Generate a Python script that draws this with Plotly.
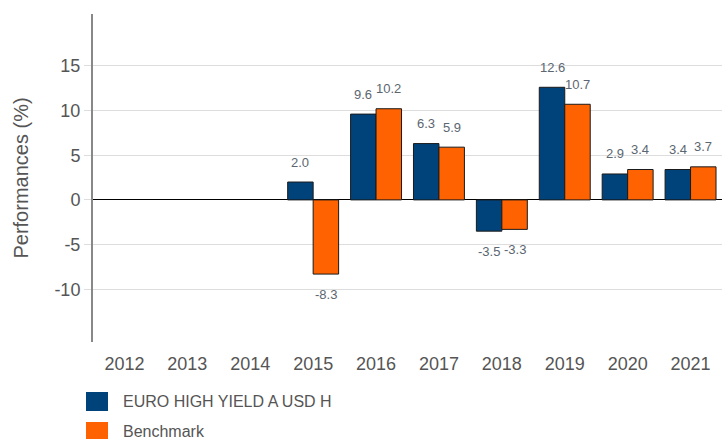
import plotly.graph_objects as go

years = ["2012", "2013", "2014", "2015", "2016", "2017", "2018", "2019", "2020", "2021"]
fund = [None, None, None, 2.0, 9.6, 6.3, -3.5, 12.6, 2.9, 3.4]
bench = [None, None, None, -8.3, 10.2, 5.9, -3.3, 10.7, 3.4, 3.7]
fund_name = "EURO HIGH YIELD A USD H"
bench_name = "Benchmark"
ytick_vals = [-10, -5, 0, 5, 10, 15]
ytick_text = ["-10", "-5", "0", "5", "10", "15"]

BLUE = "#00437A"
ORANGE = "#FF6200"
W, H = 722, 439
ML, MR, MT, MB = 93, 0, 14, 97
PW, PH = W - ML - MR, H - MT - MB

def px_x(p):
    return (p - ML) / PW

def px_y(p):
    return (H - MB - p) / PH

fig = go.Figure()
fig.add_trace(go.Bar(x=years, y=fund, name=fund_name, marker=dict(color=BLUE, line=dict(color="#1a1a1a", width=1)), showlegend=False))
fig.add_trace(go.Bar(x=years, y=bench, name=bench_name, marker=dict(color=ORANGE, line=dict(color="#1a1a1a", width=1)), showlegend=False))

cat_w = PW / len(years)
bar_off = cat_w * 0.81 / 4
for series, sign in ((fund, -1), (bench, 1)):
    for i, v in enumerate(series):
        if v is None:
            continue
        fig.add_annotation(x=i, y=v, text=f"{v:.1f}", showarrow=False,
                           xshift=sign * bar_off, yshift=20 if v >= 0 else -20,
                           font=dict(size=13, color="#5b6670"))

# legend keys
for i, (name, col) in enumerate(((fund_name, BLUE), (bench_name, ORANGE))):
    top = 392 + i * 30
    fig.add_shape(type="rect", xref="paper", yref="paper",
                  x0=px_x(86), x1=px_x(108), y0=px_y(top), y1=px_y(top + 19),
                  fillcolor=col, line=dict(width=0))
    fig.add_annotation(xref="paper", yref="paper", x=px_x(121), y=px_y(top + 9),
                       text=name, showarrow=False, xanchor="left", yanchor="middle",
                       font=dict(size=16, color="#555555"))

fig.update_layout(
    width=W, height=H, margin=dict(l=ML, r=MR, t=MT, b=MB),
    barmode="group", bargap=0.19, bargroupgap=0,
    plot_bgcolor="white", paper_bgcolor="white",
    font=dict(family="Liberation Sans, Arial, sans-serif", color="#555555"),
)
fig.update_xaxes(type="category", categoryorder="array", categoryarray=years,
                 range=[-0.5, len(years) - 0.5], showline=False, showgrid=False, ticks="",
                 tickfont=dict(size=18, color="#555555"), ticklabelstandoff=9)
fig.update_yaxes(range=[-15.9, 20.8], tickvals=ytick_vals, ticktext=ytick_text,
                 showgrid=True, gridcolor="#dddddd",
                 gridwidth=1, zeroline=True, zerolinecolor="#000000", zerolinewidth=1,
                 showline=True, linecolor="#888888", linewidth=2,
                 ticks="outside", ticklen=7, tickcolor="#dddddd",
                 tickfont=dict(size=18, color="#555555"),
                 title=dict(text="Performances (%)", font=dict(size=20, color="#555555"), standoff=20))

fig.write_html("out.html", config={"displayModeBar": False},
               post_script="document.body.style.margin='0';document.body.style.overflow='hidden';")
